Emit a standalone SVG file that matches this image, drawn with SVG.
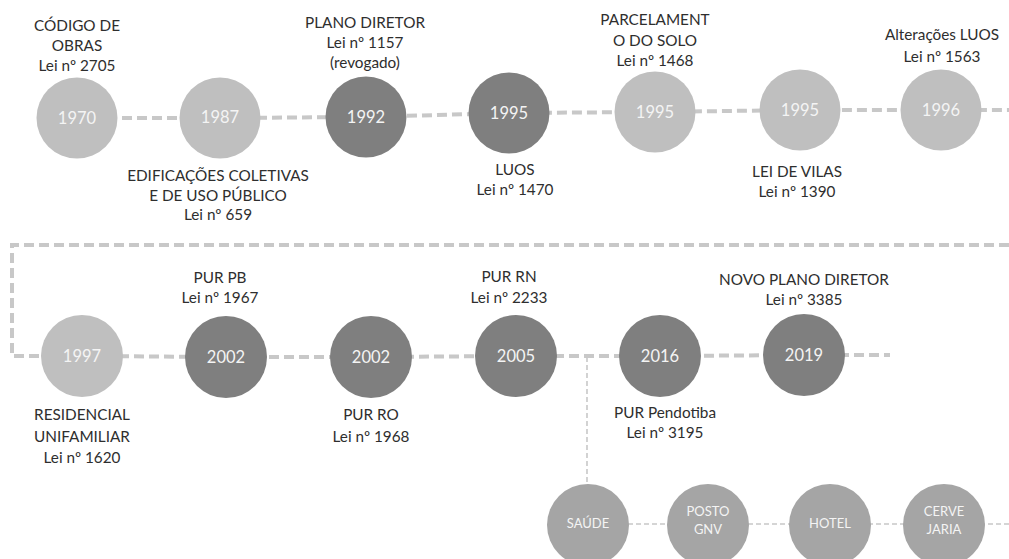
<svg xmlns="http://www.w3.org/2000/svg" width="1009" height="559" viewBox="0 0 1009 559">
<style>
.lbl{font-family:Lato,"Liberation Sans",sans-serif;font-size:15.3px;fill:#2e2e2e;text-anchor:middle}
.yr{font-family:Lato,"Liberation Sans",sans-serif;font-size:16.5px;fill:#f4f4f4;text-anchor:middle;dominant-baseline:central}
.sm{font-family:Lato,"Liberation Sans",sans-serif;font-size:13px;fill:#f4f4f4;text-anchor:middle}
.light{fill:#bfbfbf}
.dark{fill:#7f7f7f}
.mid{fill:#a5a5a5}
.main{fill:none;stroke:#c8c8c8;stroke-width:4;stroke-dasharray:10 5}
.thin{fill:none;stroke:#c8c8c8;stroke-width:1.6;stroke-dasharray:5 3}
</style>
<rect width="1009" height="559" fill="#ffffff"/>
<g id="connectors">
<path class="main" d="M77,118 L220,118 L366,117 L509,113 L655,112 L800,110 L941,110 L1009,110"/>
<path class="main" d="M1009,245 L12,245 L12,356 L82,356 L226,357 L371,357 L516,356 L660,356 L804,355 L890,355"/>
<path class="thin" d="M587,357 L587,486"/>
<path class="thin" d="M588,524 L1009,524"/>
</g>
<g id="n1970"><circle class="light" cx="77" cy="118" r="40.5"/><text class="yr" x="77" y="118">1970</text>
<text class="lbl" x="77" y="31">CÓDIGO DE</text><text class="lbl" x="77" y="51">OBRAS</text><text class="lbl" x="77" y="71">Lei nº 2705</text></g>
<g id="n1987"><circle class="light" cx="220" cy="118" r="40.5"/><text class="yr" x="220" y="117">1987</text>
<text class="lbl" x="218" y="181">EDIFICAÇÕES COLETIVAS</text><text class="lbl" x="218" y="201">E DE USO PÚBLICO</text><text class="lbl" x="218" y="220">Lei nº 659</text></g>
<g id="n1992"><circle class="dark" cx="366" cy="117" r="40.5"/><text class="yr" x="366" y="117">1992</text>
<text class="lbl" x="365" y="28">PLANO DIRETOR</text><text class="lbl" x="365" y="48">Lei nº 1157</text><text class="lbl" x="365" y="68">(revogado)</text></g>
<g id="n1995a"><circle class="dark" cx="509" cy="113" r="40.5"/><text class="yr" x="509" y="113">1995</text>
<text class="lbl" x="515" y="175">LUOS</text><text class="lbl" x="515" y="195">Lei nº 1470</text></g>
<g id="n1995b"><circle class="light" cx="655" cy="112" r="40.5"/><text class="yr" x="655" y="112">1995</text>
<text class="lbl" x="655" y="25">PARCELAMENT</text><text class="lbl" x="655" y="46">O DO SOLO</text><text class="lbl" x="655" y="66">Lei nº 1468</text></g>
<g id="n1995c"><circle class="light" cx="800" cy="110" r="40.5"/><text class="yr" x="800" y="110">1995</text>
<text class="lbl" x="797" y="177">LEI DE VILAS</text><text class="lbl" x="797" y="197">Lei nº 1390</text></g>
<g id="n1996"><circle class="light" cx="941" cy="110" r="40.5"/><text class="yr" x="941" y="110">1996</text>
<text class="lbl" x="942" y="40">Alterações LUOS</text><text class="lbl" x="942" y="62">Lei nº 1563</text></g>
<g id="n1997"><circle class="light" cx="82" cy="356" r="41"/><text class="yr" x="82" y="356">1997</text>
<text class="lbl" x="82" y="420">RESIDENCIAL</text><text class="lbl" x="82" y="442">UNIFAMILIAR</text><text class="lbl" x="82" y="463">Lei nº 1620</text></g>
<g id="n2002a"><circle class="dark" cx="226" cy="357" r="41"/><text class="yr" x="226" y="357">2002</text>
<text class="lbl" x="220" y="283">PUR PB</text><text class="lbl" x="220" y="303">Lei nº 1967</text></g>
<g id="n2002b"><circle class="dark" cx="371" cy="357" r="41"/><text class="yr" x="371" y="357">2002</text>
<text class="lbl" x="371" y="420">PUR RO</text><text class="lbl" x="371" y="442">Lei nº 1968</text></g>
<g id="n2005"><circle class="dark" cx="516" cy="356" r="41"/><text class="yr" x="516" y="356">2005</text>
<text class="lbl" x="509" y="282">PUR RN</text><text class="lbl" x="509" y="303">Lei nº 2233</text></g>
<g id="n2016"><circle class="dark" cx="660" cy="356" r="41"/><text class="yr" x="660" y="356">2016</text>
<text class="lbl" x="665" y="418">PUR Pendotiba</text><text class="lbl" x="665" y="438">Lei nº 3195</text></g>
<g id="n2019"><circle class="dark" cx="804" cy="355" r="41"/><text class="yr" x="804" y="355">2019</text>
<text class="lbl" x="804" y="285">NOVO PLANO DIRETOR</text><text class="lbl" x="804" y="305">Lei nº 3385</text></g>
<g id="saude"><circle class="mid" cx="588" cy="525" r="41"/><text class="sm" x="588" y="528">SAÚDE</text></g>
<g id="posto"><circle class="mid" cx="708" cy="525" r="41"/><text class="sm" x="708" y="516">POSTO</text><text class="sm" x="708" y="534">GNV</text></g>
<g id="hotel"><circle class="mid" cx="830" cy="525" r="41"/><text class="sm" x="830" y="528">HOTEL</text></g>
<g id="cervejaria"><circle class="mid" cx="944" cy="525" r="41"/><text class="sm" x="944" y="516">CERVE</text><text class="sm" x="944" y="534">JARIA</text></g>
</svg>
